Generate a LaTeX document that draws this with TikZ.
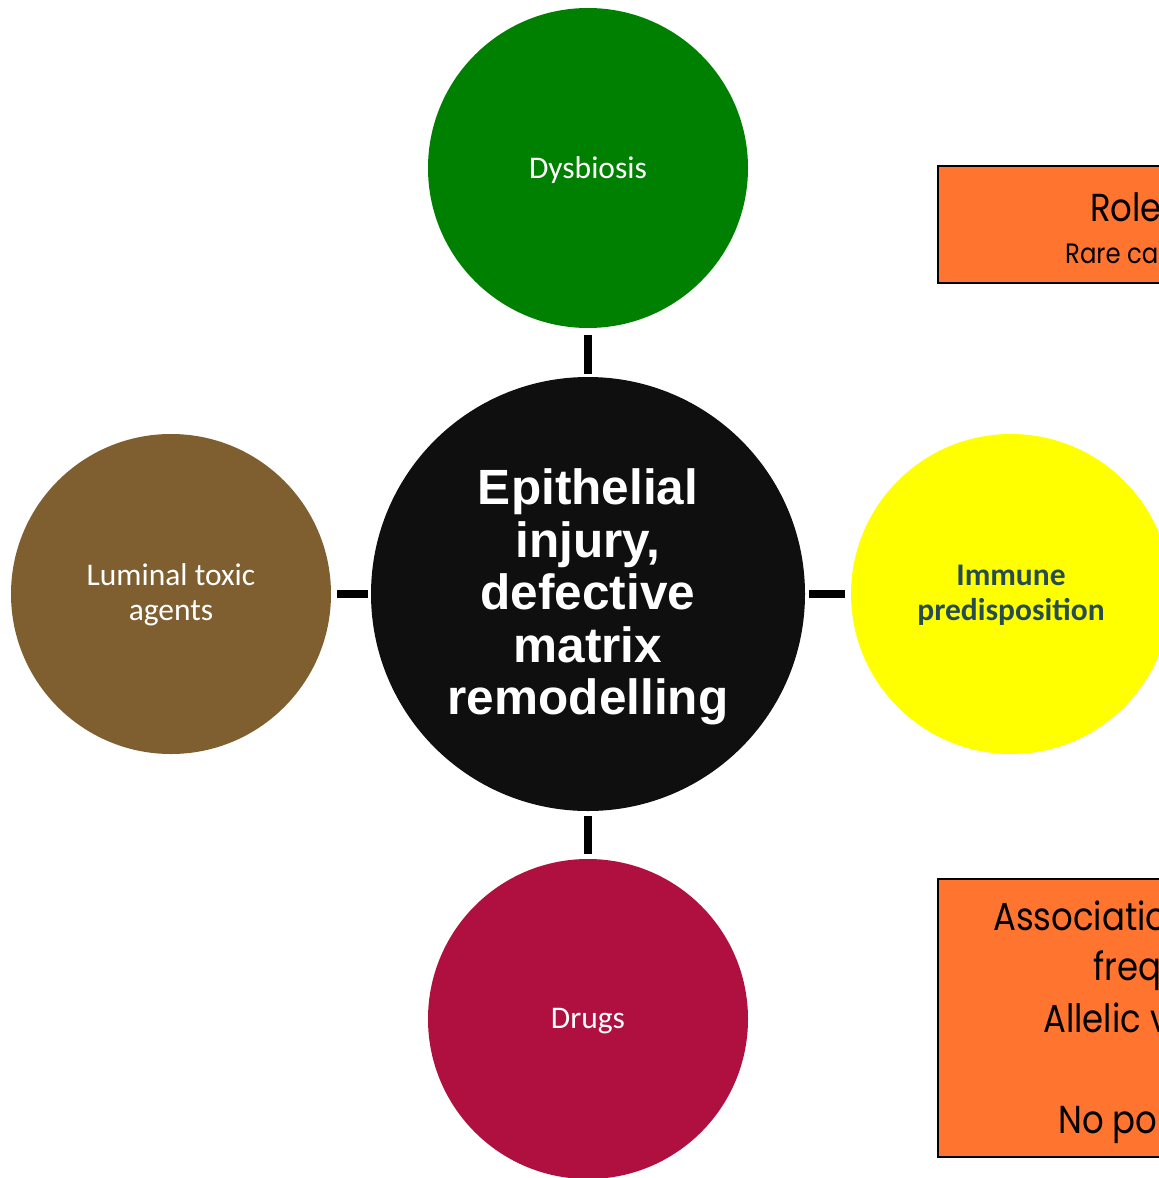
\documentclass[tikz,border=0pt]{standalone}
\usepackage{fontspec}
\newfontfamily\calib{Carlito}
\newfontfamily\arialf{Liberation Sans}
\newfontfamily\geo{Poppins}[FakeStretch=0.87]
\definecolor{dysgreen}{HTML}{008000}
\definecolor{lumbrown}{HTML}{7F5F30}
\definecolor{immyellow}{HTML}{FFFF00}
\definecolor{drugred}{HTML}{B0103F}
\definecolor{coreblack}{HTML}{0F0F0F}
\definecolor{boxorange}{HTML}{FF7530}
\definecolor{immtext}{HTML}{264C50}
\tikzset{
  satellite/.style={circle, draw=none, minimum size=320pt, inner sep=0pt, outer sep=0pt},
  core/.style={circle, draw=none, fill=coreblack, minimum size=434pt, inner sep=0pt, outer sep=0pt},
  smalllabel/.style={text=white, align=center, font=\calib\fontsize{31.5}{35}\selectfont},
  link/.style={line width=8pt, black},
  infobox/.style={draw=black, line width=2pt, fill=boxorange, anchor=north west, inner sep=0pt, outer sep=0pt},
  boxtext/.style={anchor=base west, inner sep=0pt, font=\geo\fontsize{39}{39}\selectfont},
  boxsmall/.style={anchor=base west, inner sep=0pt, font=\geo\fontsize{28}{28}\selectfont},
}
\begin{document}
\begin{tikzpicture}[x=1pt,y=-1pt]
\clip (0,0) rectangle (1159,1178);
\fill[white] (0,0) rectangle (1159,1178);

\node[satellite, fill=dysgreen] (dys) at (588,168) {};
\node[satellite, fill=lumbrown] (lum) at (171,594) {};
\node[satellite, fill=immyellow] (imm) at (1011,594) {};
\node[satellite, fill=drugred] (drg) at (588,1019) {};
\node[core] (core) at (588,594) {};

\node[smalllabel] (dyst) at (588,170) {Dysbiosis};
\node[smalllabel] (lumt) at (171,595) {Luminal toxic\\agents};
\node[smalllabel, text=immtext, font=\calib\bfseries\fontsize{31.5}{35}\selectfont] (immt) at (1011,595) {Immune\\predisposition};
\node[smalllabel] (drgt) at (588,1021) {Drugs};
\node[text=white, align=center, font=\arialf\bfseries\fontsize{49.5}{52.5}\selectfont] (coret) at (588,597) {Epithelial\\injury,\\defective\\matrix\\remodelling};

\draw[link, shorten <=7pt, shorten >=3pt] (dys) -- (core);
\draw[link, shorten <=6pt, shorten >=3pt] (lum) -- (core);
\draw[link, shorten <=6pt, shorten >=4pt] (imm) -- (core);
\draw[link, shorten <=5pt, shorten >=5pt] (drg) -- (core);

\node[infobox, minimum width=300pt, minimum height=117pt] (box1) at (938,166) {};
\node[infobox, minimum width=300pt, minimum height=278pt] (box2) at (938,879) {};

\node[boxtext] (rolet) at (1090,221) {Role};
\node[boxsmall] (raret) at (1065,263) {Rare ca};
\node[boxtext] (asst) at (993,930) {Associatio};
\node[boxtext] (freqt) at (1093,980) {freq};
\node[boxtext] (allt) at (1043,1032) {Allelic v};
\node[boxtext] (not) at (1058,1133) {No po};
\end{tikzpicture}
\end{document}
